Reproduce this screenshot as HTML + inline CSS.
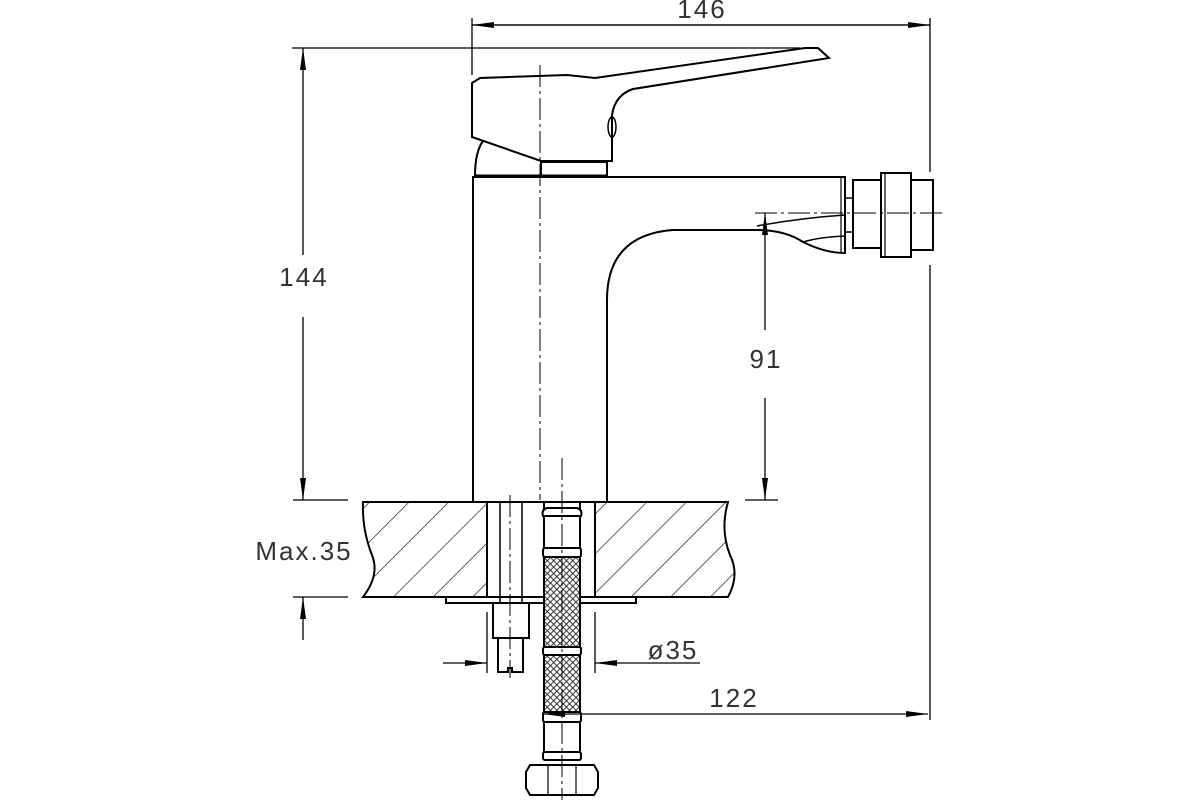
<!DOCTYPE html>
<html><head><meta charset="utf-8"><style>
html,body{margin:0;padding:0;background:#fff;}
svg{display:block;}
text{font-family:"Liberation Sans",sans-serif;fill:#333;}
</style></head><body>
<svg width="1200" height="800" viewBox="0 0 1200 800" xmlns="http://www.w3.org/2000/svg">
<defs>
<pattern id="hatch" patternUnits="userSpaceOnUse" width="28" height="28" patternTransform="rotate(45)">
<line x1="0" y1="0" x2="0" y2="28" stroke="#111" stroke-width="1.3"/>
</pattern>
<pattern id="mesh" patternUnits="userSpaceOnUse" width="4.5" height="4.5" patternTransform="rotate(45)">
<rect width="4.5" height="4.5" fill="#fff"/>
<line x1="0" y1="0" x2="4.5" y2="0" stroke="#222" stroke-width="1.8"/>
<line x1="0" y1="0" x2="0" y2="4.5" stroke="#222" stroke-width="1.8"/>
</pattern>
<marker id="ar" markerWidth="24" markerHeight="8" refX="22" refY="4" orient="auto" markerUnits="userSpaceOnUse">
<path d="M0,1 L22,4 L0,7 Z" fill="#000"/>
</marker>
</defs>
<g fill="none" stroke="#000" stroke-width="2">
<path d="M363,502 L487,502 L487,597 L363,597 Q380,575 372,555 Q362,530 363,502 Z" fill="url(#hatch)"/>
<path d="M595,502 L728,502 Q720,530 730,555 Q740,575 728,597 L595,597 Z" fill="url(#hatch)"/>
<line x1="487" y1="502" x2="595" y2="502"/>
<rect x="446" y="597" width="190" height="6"/>
<path d="M473,502 L473,177 L845,177 L845,253 Q825,253 803,242 Q785,230 757,230 L673,230 Q607,235 607,300 L607,502"/>
<path d="M757,226 Q800,218 845,215" stroke-width="1.5"/>
<path d="M803,242 Q820,237 845,236" stroke-width="1.5"/>
<line x1="841" y1="177" x2="841" y2="253" stroke-width="1.2"/>
<line x1="845" y1="198" x2="853" y2="198" stroke-width="1.5"/>
<line x1="845" y1="232" x2="853" y2="232" stroke-width="1.5"/>
<rect x="853" y="180" width="28" height="68"/>
<rect x="881" y="173" width="30" height="84"/>
<line x1="885" y1="173" x2="885" y2="257" stroke-width="1.2"/>
<rect x="911" y="180" width="22" height="70"/>
<path d="M475,176 Q475,152 483,141"/>
<rect x="541" y="162" width="66" height="14"/>
<line x1="475" y1="176" x2="607" y2="176" stroke-width="3"/>
<path d="M472,137 L472,83 L480,78 L567,75 L595,78 L805,48 L818,48 L829,58 L633,89 Q615,95 612,115 L612,161 L541,161 L472,137 Z"/>
<ellipse cx="612" cy="127" rx="4" ry="10" stroke-width="1.5"/>
<line x1="500" y1="502" x2="500" y2="603" stroke-width="1.5"/>
<line x1="522" y1="502" x2="522" y2="603" stroke-width="1.5"/>
<rect x="493" y="603" width="36" height="35"/>
<path d="M498,638 L498,672 L508,672 L508,668 L512,668 L512,672 L523,672 L523,638"/>
<rect x="544" y="557" width="36" height="155" fill="url(#mesh)" stroke="none"/>
<line x1="544" y1="502" x2="544" y2="760"/>
<line x1="580" y1="502" x2="580" y2="760"/>
<path d="M543,516 Q541,510 547,508 L577,508 Q583,510 581,516 Z" fill="#fff"/>
<rect x="543" y="548" width="38" height="9" rx="2" fill="#fff"/>
<rect x="543" y="647" width="38" height="8" rx="2" fill="#fff"/>
<rect x="543" y="712" width="38" height="10" rx="2" fill="#fff"/>
<rect x="543" y="752" width="38" height="8" rx="2" fill="#fff"/>
<path d="M530,765 L594,765 L598,772 L598,788 L594,795 L530,795 L526,788 L526,772 Z" fill="#fff"/>
<line x1="548" y1="765" x2="548" y2="795" stroke-width="1.2"/>
<line x1="576" y1="765" x2="576" y2="795" stroke-width="1.2"/>
</g>
<g stroke="#000" stroke-width="1" stroke-dasharray="22,4,3,4" fill="none">
<line x1="540" y1="65" x2="540" y2="500"/>
<line x1="510" y1="495" x2="510" y2="678"/>
<line x1="562" y1="458" x2="562" y2="800"/>
<line x1="755" y1="213" x2="945" y2="213"/>
</g>
<g stroke="#000" stroke-width="1.3" fill="none">
<line x1="472" y1="18" x2="472" y2="75"/>
<line x1="930" y1="18" x2="930" y2="172"/>
<line x1="930" y1="265" x2="930" y2="720"/>
<line x1="472" y1="25" x2="930" y2="25" marker-end="url(#ar)"/>
<line x1="930" y1="25" x2="472" y2="25" marker-end="url(#ar)"/>
<line x1="292" y1="48" x2="800" y2="48"/>
<line x1="293" y1="500" x2="348" y2="500"/>
<line x1="293" y1="597" x2="348" y2="597"/>
<line x1="303" y1="255" x2="303" y2="48" marker-end="url(#ar)"/>
<line x1="303" y1="317" x2="303" y2="500" marker-end="url(#ar)"/>
<line x1="303" y1="640" x2="303" y2="597" marker-end="url(#ar)"/>
<line x1="745" y1="500" x2="778" y2="500"/>
<line x1="765" y1="330" x2="765" y2="213" marker-end="url(#ar)"/>
<line x1="765" y1="398" x2="765" y2="500" marker-end="url(#ar)"/>
<line x1="487" y1="612" x2="487" y2="673"/>
<line x1="595" y1="612" x2="595" y2="673"/>
<line x1="443" y1="663" x2="487" y2="663" marker-end="url(#ar)"/>
<line x1="700" y1="663" x2="595" y2="663" marker-end="url(#ar)"/>
<line x1="600" y1="714" x2="928" y2="714" marker-end="url(#ar)"/>
<line x1="600" y1="714" x2="543" y2="714" marker-end="url(#ar)"/>
</g>
<g font-size="26" letter-spacing="2">
<text x="702" y="18" text-anchor="middle">146</text>
<text x="304" y="286" text-anchor="middle">144</text>
<text x="304" y="560" text-anchor="middle">Max.35</text>
<text x="766" y="368" text-anchor="middle">91</text>
<text x="673" y="659" text-anchor="middle">ø35</text>
<text x="734" y="707" text-anchor="middle">122</text>
</g>
</svg>
</body></html>
